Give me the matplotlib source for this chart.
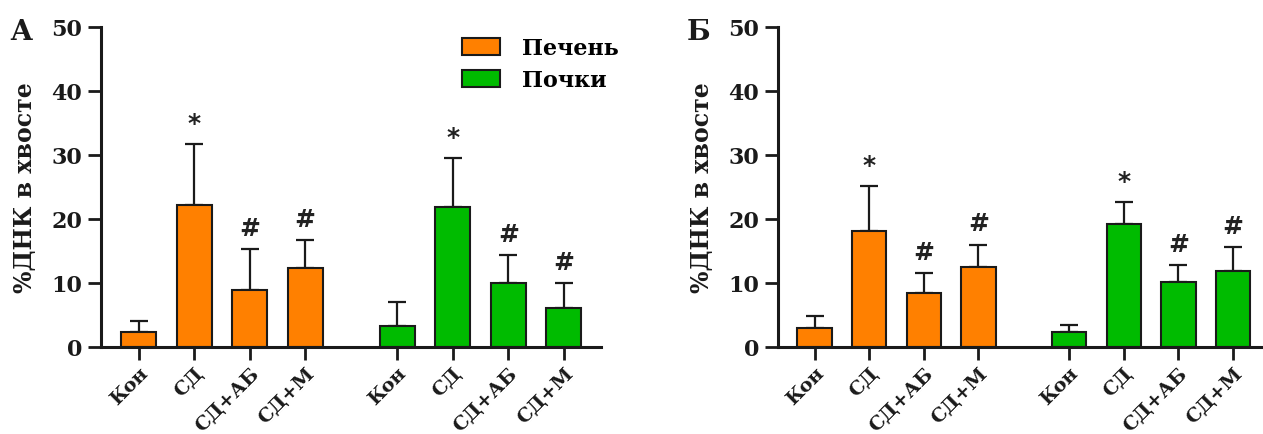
import matplotlib
matplotlib.use('Agg')
import matplotlib.pyplot as plt
from matplotlib.patches import Patch
import numpy as np

# groups and data
groups = ['Кон', 'СД', 'СД+АБ', 'СД+М']
series_names = ['Печень', 'Почки']
colors = ['#FF8000', '#00BB00']

# panel A
a_liver = [2.3, 22.2, 8.9, 12.3]
a_liver_sd = [1.8, 9.5, 6.4, 4.4]
a_kidney = [3.3, 21.9, 10.0, 6.1]
a_kidney_sd = [3.8, 7.6, 4.4, 3.9]

# panel Б
b_liver = [3.0, 18.1, 8.5, 12.5]
b_liver_sd = [1.9, 7.0, 3.1, 3.5]
b_kidney = [2.4, 19.2, 10.2, 11.8]
b_kidney_sd = [1.1, 3.5, 2.6, 3.8]

marks = ['', '*', '#', '#']

plt.rcParams['font.family'] = ['DejaVu Serif']
plt.rcParams['font.weight'] = 'bold'

fig = plt.figure(figsize=(12.63, 4.35), dpi=100)

W, H = 1263, 435
bottom = (H - 348) / H
top = (H - 28) / H
axA = fig.add_axes([101 / W, bottom, 500 / W, top - bottom])
axB = fig.add_axes([778 / W, bottom, 485 / W, top - bottom])

x1 = np.arange(4)
x2 = x1 + 4.66
width = 0.63


def draw_panel(ax, liver, liver_sd, kidney, kidney_sd, xlim):
    for xs, vals, sds, c in [(x1, liver, liver_sd, colors[0]),
                             (x2, kidney, kidney_sd, colors[1])]:
        ax.bar(xs, vals, width=width, color=c, edgecolor='#1a1a1a',
               linewidth=1.5, zorder=2)
        ax.errorbar(xs, vals, yerr=[np.zeros(4), sds], fmt='none',
                    ecolor='#1a1a1a', elinewidth=1.6, capsize=6.5,
                    capthick=1.6, zorder=1)
        for xi, v, s, m in zip(xs, vals, sds, marks):
            if m:
                ax.text(xi, v + s + 3.3, m, ha='center', va='center',
                        fontsize=18, fontweight='bold',
                        family='DejaVu Sans', color='#222222')
    ax.set_xlim(*xlim)
    ax.set_ylim(0, 50)
    ax.set_yticks(range(0, 51, 10))
    ax.set_xticks(np.concatenate([x1, x2]))
    ax.set_xticklabels(groups + groups, rotation=45, ha='right',
                       rotation_mode='anchor', fontsize=14, fontweight='bold')
    ax.tick_params(axis='y', labelsize=16, width=2, length=9.5, pad=4,
                   color='#1a1a1a', labelcolor='#1a1a1a')
    ax.tick_params(axis='x', width=2, length=9.5, pad=2.5, color='#1a1a1a',
                   labelcolor='#1a1a1a')
    for lab in ax.get_yticklabels():
        lab.set_fontweight('bold')
    for s in ['top', 'right']:
        ax.spines[s].set_visible(False)
    for s in ['left', 'bottom']:
        ax.spines[s].set_linewidth(2.2)
        ax.spines[s].set_color('#1a1a1a')
    ax.set_ylabel('%ДНК в хвосте', fontsize=17, fontweight='bold', labelpad=10,
                  color='#1a1a1a')


draw_panel(axA, a_liver, a_liver_sd, a_kidney, a_kidney_sd, (-0.68, 8.33))
draw_panel(axB, b_liver, b_liver_sd, b_kidney, b_kidney_sd, (-0.67, 8.21))

handles = [Patch(facecolor=c, edgecolor='#1a1a1a', linewidth=1.5) for c in colors]
leg = axA.legend(handles, series_names, loc='upper left',
                 bbox_to_anchor=(462 / W, 1 - 38 / H),
                 bbox_transform=fig.transFigure, frameon=False, borderpad=0,
                 borderaxespad=0,
                 handlelength=1.7, handleheight=0.78, handletextpad=1.0,
                 labelspacing=0.45,
                 prop={'family': 'DejaVu Serif', 'weight': 'bold', 'size': 16})

fig.text(10 / W, 1 - 40 / H, 'A', fontsize=20, fontweight='bold', va='baseline',
         color='#1a1a1a')
fig.text(687 / W, 1 - 40 / H, 'Б', fontsize=20, fontweight='bold', va='baseline',
         color='#1a1a1a')

fig.savefig('out.png', dpi=100)
